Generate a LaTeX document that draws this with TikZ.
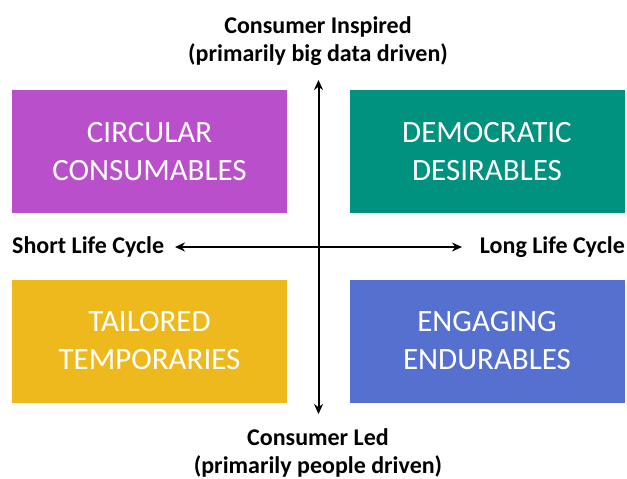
\documentclass[tikz,border=0pt]{standalone}
\usepackage{fontspec}
\setmainfont{Carlito}
\usetikzlibrary{arrows.meta}

\definecolor{circpurple}{HTML}{B94FCA}
\definecolor{demoteal}{HTML}{00917F}
\definecolor{tailyellow}{HTML}{EDB91C}
\definecolor{engblue}{HTML}{5670D0}

\tikzset{
  quadbox/.style={minimum width=275pt, minimum height=123pt, inner sep=0pt,
    text=white, align=center, font=\fontsize{31}{38}\selectfont},
  axislabel/.style={align=center, inner sep=0pt, font=\fontsize{24}{28}\selectfont\bfseries},
  axis/.style={line width=2pt, -{Stealth[length=10pt,width=9pt]}}
}

\begin{document}
\begin{tikzpicture}[x=1pt, y=-1pt]

% 1. Canvas
\useasboundingbox (0,0) rectangle (627,479);

% 2. Quadrant boxes
\node[quadbox, fill=circpurple] (circ) at (149.5,151.5) {CIRCULAR\\CONSUMABLES};
\node[quadbox, fill=demoteal] (demo) at (487,151.5) {DEMOCRATIC\\DESIRABLES};
\node[quadbox, fill=tailyellow] (tail) at (149.5,341) {TAILORED\\TEMPORARIES};
\node[quadbox, fill=engblue] (eng) at (487,341) {ENGAGING\\ENDURABLES};

% 3. Axis ends
\coordinate (top) at (318.5,80);
\coordinate (bottom) at (318.5,414);
\coordinate (left) at (175,247);
\coordinate (right) at (462,247);
\coordinate (centre) at (318.5,247);

% 4. Axes
\draw[axis] (centre) -- (top);
\draw[axis] (centre) -- (bottom);
\draw[axis] (centre) -- (left);
\draw[axis] (centre) -- (right);

% 5. Axis labels
\node[axislabel] (inspired) at (318,41) {Consumer Inspired\\(primarily big data driven)};
\node[axislabel] (led) at (318,453) {Consumer Led\\(primarily people driven)};
\node[axislabel, anchor=west] (short) at (12,247) {Short Life Cycle};
\node[axislabel, anchor=east] (long) at (625,247) {Long Life Cycle};

\end{tikzpicture}
\end{document}
